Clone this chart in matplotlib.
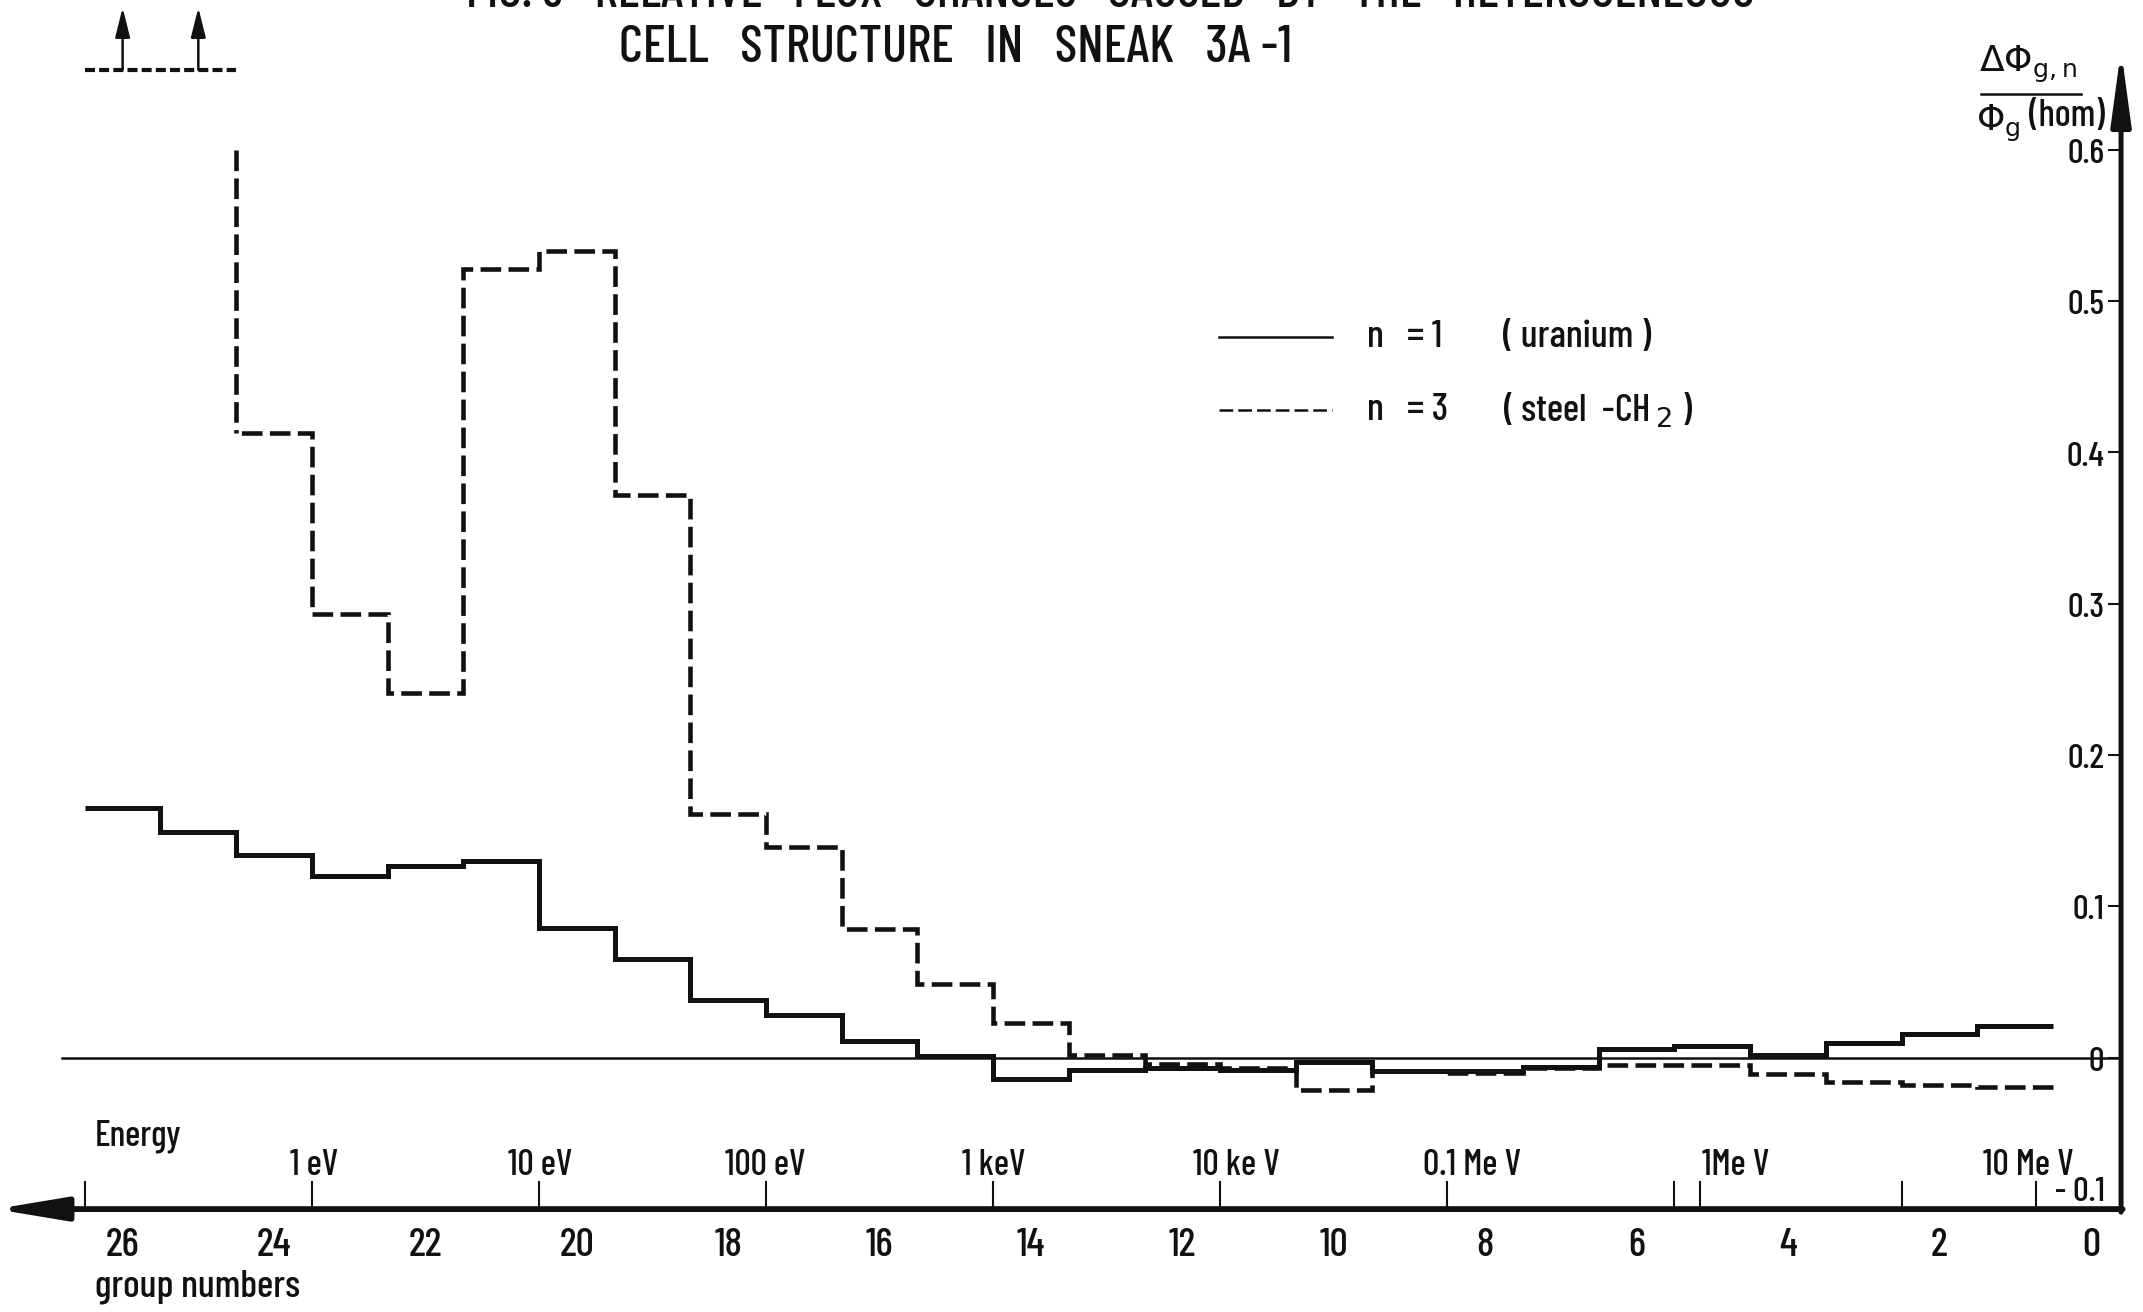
import numpy as np
import matplotlib
matplotlib.use('Agg')
import matplotlib.pyplot as plt
from matplotlib import font_manager

# ── Data (left to right in the picture: group 26 ... group 1) ────────────────
groups = np.arange(26, 0, -1)
n1_uranium = [0.165, 0.149, 0.134, 0.120, 0.127, 0.130, 0.086, 0.065, 0.038,
              0.028, 0.011, 0.001, -0.014, -0.008, -0.007, -0.008, -0.003,
              -0.009, -0.009, -0.006, 0.006, 0.008, 0.002, 0.010, 0.016, 0.021]
# groups 26 and 25 are off scale (marked with arrows)
n3_steel = [np.nan, np.nan, 0.413, 0.293, 0.241, 0.521, 0.533, 0.372, 0.161,
            0.139, 0.085, 0.049, 0.023, 0.002, -0.004, -0.007, -0.021, -0.009,
            -0.010, -0.007, -0.005, -0.005, -0.011, -0.016, -0.018, -0.019]

y_ticks = [0.6, 0.5, 0.4, 0.3, 0.2, 0.1, 0.0, -0.1]
y_tick_labels = ['0.6', '0.5', '0.4', '0.3', '0.2', '0.1', '0', '- 0.1']
group_ticks = [26, 24, 22, 20, 18, 16, 14, 12, 10, 8, 6, 4, 2, 0]

energy_tick_pos = [26.5, 23.5, 20.5, 17.5, 14.5, 11.5, 8.5, 5.5, 5.16, 2.5, 0.72]
energy_labels = ['1 eV', '10 eV', '100 eV', '1 keV', '10 ke V', '0.1 Me V',
                 '1Me V', '10 Me V']
energy_label_pos = [23.47, 20.49, 17.51, 14.49, 11.28, 8.17, 4.69, 0.83]

# ── Style ────────────────────────────────────────────────────────────────────
names = {f.name for f in font_manager.fontManager.ttflist}
FONT = next((c for c in ['Barlow Condensed', 'Roboto Condensed', 'Abel',
                         'Liberation Sans Narrow'] if c in names), 'DejaVu Sans')
plt.rcParams['font.family'] = [FONT, 'DejaVu Sans']
plt.rcParams['font.weight'] = 'medium'
plt.rcParams['mathtext.fontset'] = 'dejavusans'
INK = '#111111'
DASH = (0, (4.5, 1.6))

X_AXIS = -0.40      # right-hand vertical axis (in group units)
Y_BOT = -0.10       # bottom energy axis
Y_TOP = 0.60

fig = plt.figure(figsize=(21.43, 13.12), dpi=100)
fig.patch.set_facecolor('white')
ax = fig.add_axes([0, 0, 1, 1])
ax.set_xlim(27.62, -0.69)
ax.set_ylim(-0.168, 0.699)
ax.axis('off')

# ── Step curves ──────────────────────────────────────────────────────────────
edges = np.arange(0.5, 27.5, 1.0)            # 0.5 ... 26.5
v1 = np.array(n1_uranium)[::-1]              # group 1 ... 26
v3 = np.array(n3_steel)[::-1]
ax.stairs(v1, edges, baseline=None, color=INK, lw=3.6)

ok = ~np.isnan(v3)
last = np.max(np.where(ok)[0])               # highest on-scale group
ax.stairs(v3[ok], edges[:last + 2], baseline=None, color=INK, lw=3.3,
          linestyle=DASH)
# off-scale jump: vertical dashed line from the top of the scale
ax.plot([edges[last + 1]] * 2, [Y_TOP, v3[last]], color=INK, lw=3.3,
        linestyle=DASH)

# off-scale marker at top left
off = groups[np.isnan(np.array(n3_steel))]
ax.plot([off.max() + 0.5, off.min() - 0.5], [0.653, 0.653], color=INK, lw=3.0,
        linestyle=(0, (2.4, 1.0)))
for g in off:
    ax.annotate('', xy=(g, 0.694), xytext=(g, 0.653),
                arrowprops=dict(arrowstyle='-|>,head_length=1.8,head_width=0.45',
                                color=INK, lw=1.8, shrinkA=0, shrinkB=0))

# ── Zero line and axes ───────────────────────────────────────────────────────
ax.plot([26.8, X_AXIS], [0, 0], color=INK, lw=1.8)
ax.annotate('', xy=(27.68, Y_BOT), xytext=(X_AXIS - 0.02, Y_BOT),
            annotation_clip=False,
            arrowprops=dict(arrowstyle='-|>,head_length=4.2,head_width=0.7',
                            color=INK, lw=4.2, shrinkA=0, shrinkB=0))
ax.annotate('', xy=(X_AXIS, 0.666), xytext=(X_AXIS, Y_BOT - 0.002),
            annotation_clip=False,
            arrowprops=dict(arrowstyle='-|>,head_length=4.4,head_width=0.6',
                            color=INK, lw=3.6, shrinkA=0, shrinkB=0))

for yv, lab in zip(y_ticks, y_tick_labels):
    if yv > Y_BOT:
        ax.plot([X_AXIS + 0.16, X_AXIS], [yv, yv], color=INK, lw=1.5)
        ax.text(X_AXIS + 0.22, yv - 0.003, lab, ha='right', va='center',
                fontsize=25, color=INK)
    else:
        ax.text(X_AXIS + 0.22, yv + 0.001, lab, ha='right', va='bottom',
                fontsize=25, color=INK)

for xe in energy_tick_pos:
    ax.plot([xe, xe], [Y_BOT, Y_BOT + 0.018], color=INK, lw=1.5)
for xe, lab in zip(energy_label_pos, energy_labels):
    ax.text(xe, -0.0715, lab, ha='center', va='center', fontsize=26, color=INK)
ax.text(25.80, -0.052, 'Energy', ha='center', va='center', fontsize=26, color=INK)

for g in group_ticks:
    ax.text(g, -0.1245, str(g), ha='center', va='center', fontsize=29, color=INK)
ax.text(26.36, -0.1516, 'group numbers', ha='left', va='center', fontsize=28,
        color=INK)

# ── Legend ───────────────────────────────────────────────────────────────────
ax.plot([11.51, 10.02], [0.4765, 0.4765], color=INK, lw=1.8)
ax.plot([11.51, 10.02], [0.4278, 0.4278], color=INK, lw=1.8,
        linestyle=(0, (5.5, 2.0)))
ax.text(9.56, 0.4765, 'n   = 1', ha='left', va='center', fontsize=28, color=INK)
ax.text(9.56, 0.4278, 'n   = 3', ha='left', va='center', fontsize=28, color=INK)
ax.text(7.76, 0.4765, '( uranium )', ha='left', va='center', fontsize=28, color=INK)
ax.text(7.76, 0.4278, r'( steel  -CH$_{\,2}$ )', ha='left', va='center',
        fontsize=28, color=INK)

# ── Y label (fraction) ───────────────────────────────────────────────────────
fig.text(1484 / 1568, 1 - 47 / 960, r'$\Delta\Phi_{\mathrm{g,n}}$', ha='center',
         va='center', fontsize=26, color=INK)
ax.plot([1.45, 0.13], [(774 - 68) / 1108] * 2, color=INK, lw=1.8)
fig.text(1446 / 1568, 1 - 90 / 960, r'$\Phi_{\mathrm{g}}$', ha='left',
         va='center', fontsize=26, color=INK)
fig.text(1540 / 1568, 1 - 85 / 960, '(hom)', ha='right', va='center',
         fontsize=27, color=INK)

# ── Title (first line partly cut off by the page edge) ──────────────────────
fig.text(0.518, 0.9948, 'FIG. 3   RELATIVE   FLUX   CHANGES   CAUSED   BY   THE   HETEROGENEOUS',
         ha='center', va='baseline', fontsize=37, color=INK)
fig.text(0.446, 0.953, 'CELL   STRUCTURE   IN   SNEAK   3A -1', ha='center',
         va='baseline', fontsize=38, color=INK)

fig.savefig('out.png', dpi=100, facecolor='white')
